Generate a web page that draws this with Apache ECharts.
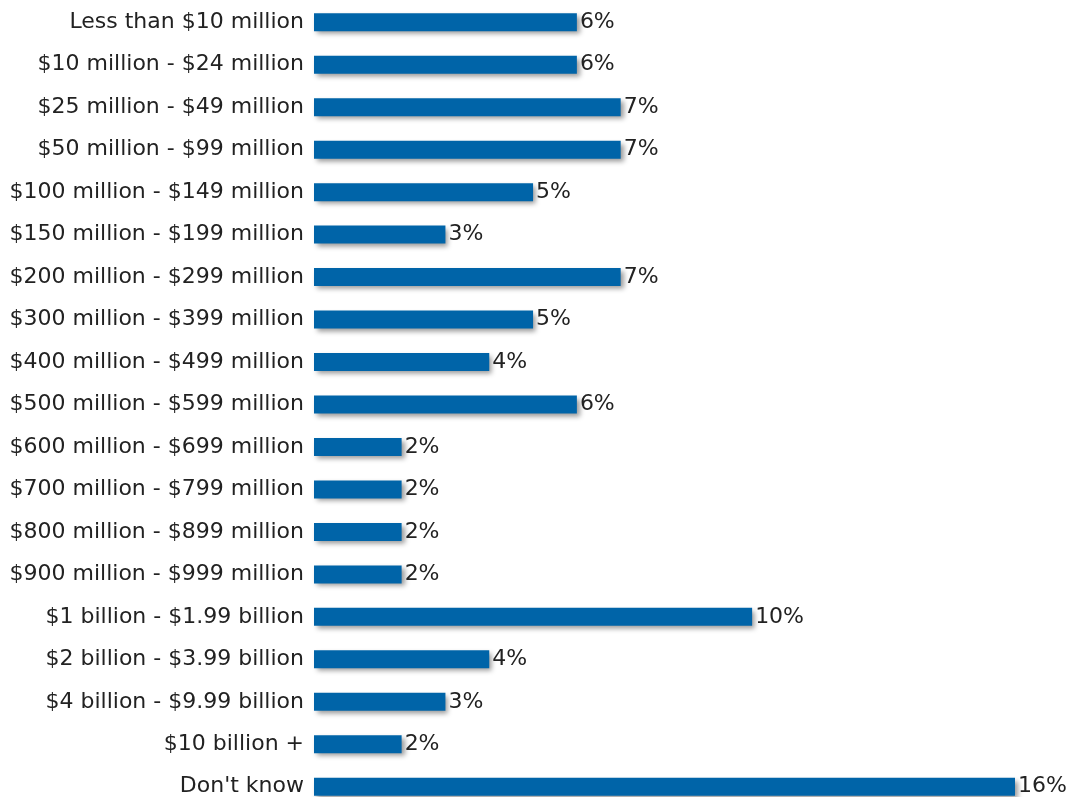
<!DOCTYPE html>
<html>
<head>
<meta charset="utf-8">
<style>
  html, body { margin: 0; padding: 0; background: #ffffff; }
  #chart { width: 1074px; height: 797px; }
</style>
<script src="https://cdn.jsdelivr.net/npm/echarts@6/dist/echarts.min.js"></script>
</head>
<body>
<div id="chart"></div>
<script>
// Revenue bands, listed top to bottom
const categories = [
  'Less than $10 million',
  '$10 million - $24 million',
  '$25 million - $49 million',
  '$50 million - $99 million',
  '$100 million - $149 million',
  '$150 million - $199 million',
  '$200 million - $299 million',
  '$300 million - $399 million',
  '$400 million - $499 million',
  '$500 million - $599 million',
  '$600 million - $699 million',
  '$700 million - $799 million',
  '$800 million - $899 million',
  '$900 million - $999 million',
  '$1 billion - $1.99 billion',
  '$2 billion - $3.99 billion',
  '$4 billion - $9.99 billion',
  '$10 billion +',
  "Don't know"
];

// Share of respondents, percent
const shares = [6, 6, 7, 7, 5, 3, 7, 5, 4, 6, 2, 2, 2, 2, 10, 4, 3, 2, 16];

const FONT = 'DejaVu Sans, Liberation Sans, Arial, sans-serif';

const chart = echarts.init(document.getElementById('chart'), null, { renderer: 'canvas' });

chart.setOption({
  animation: false,
  backgroundColor: '#ffffff',
  // the last row runs slightly past the bottom edge
  grid: {
    left: 314, top: 1, width: 701, height: 807,
    containLabel: false,
    outerBoundsMode: 'none'
  },
  xAxis: {
    type: 'value',
    min: 0,
    max: 16,
    show: false
  },
  yAxis: {
    type: 'category',
    inverse: true,
    data: categories,
    axisLine: { show: false },
    axisTick: { show: false },
    axisLabel: {
      color: '#222222',
      fontFamily: FONT,
      fontSize: 22,
      margin: 10
    }
  },
  series: [{
    type: 'bar',
    data: shares,
    barWidth: 18,
    itemStyle: {
      color: '#0064a8',
      shadowColor: 'rgba(0,0,0,0.4)',
      shadowBlur: 5,
      shadowOffsetX: 3,
      shadowOffsetY: 3
    },
    label: {
      show: true,
      position: 'right',
      distance: 3,
      formatter: '{c}%',
      color: '#222222',
      fontFamily: FONT,
      fontSize: 22
    }
  }]
});
</script>
</body>
</html>
